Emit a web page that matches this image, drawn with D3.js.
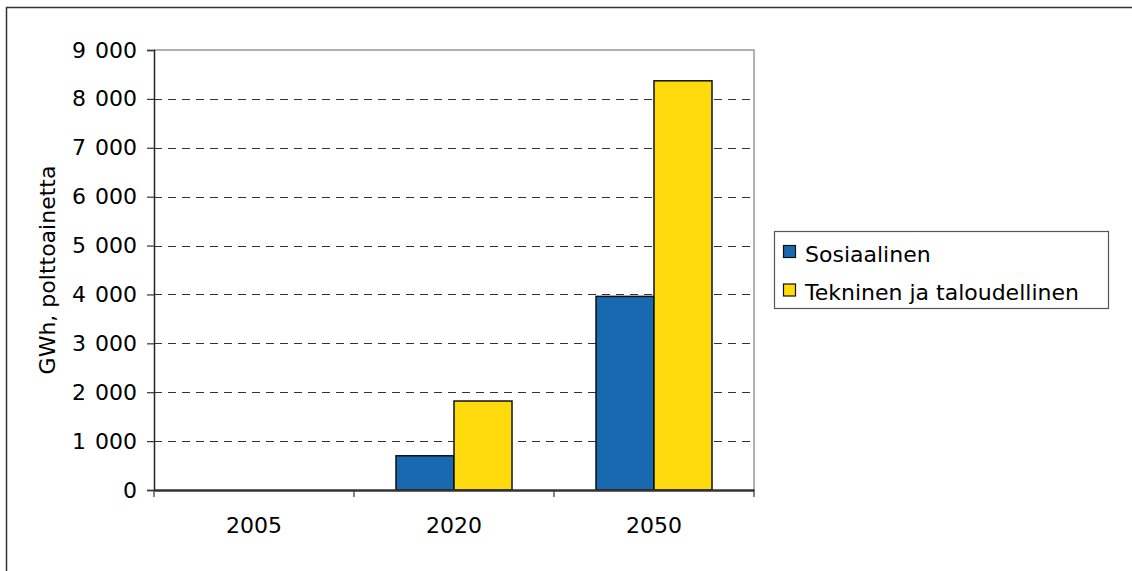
<!DOCTYPE html>
<html>
<head>
<meta charset="utf-8">
<script src="https://cdn.jsdelivr.net/npm/d3@7"></script>
<style>
  html, body { margin: 0; padding: 0; background: #fff; }
  svg { display: block; font-family: "DejaVu Sans", Verdana, sans-serif; }
</style>
</head>
<body>
<svg id="chart" width="1132" height="571"></svg>
<script>
// Years on the x axis
const years = ["2005", "2020", "2050"];
// Series (GWh of fuel)
const seriesNames = ["Sosiaalinen", "Tekninen ja taloudellinen"];
const sosiaalinen = [0, 700, 3960];
const tekninen = [0, 1820, 8370];
const seriesColors = ["#1969B0", "#FFDB0E"];
// Y axis ticks
const yTicks = [0, 1000, 2000, 3000, 4000, 5000, 6000, 7000, 8000, 9000];
const yLabel = "GWh, polttoainetta";

const FONT = 22;
const svg = d3.select("#chart");
const plot = { left: 154, right: 754, top: 50, bottom: 490 };

// Outer frame
svg.append("rect")
  .attr("x", 6.5).attr("y", 7.5)
  .attr("width", 1140).attr("height", 600)
  .attr("fill", "none").attr("stroke", "#333").attr("stroke-width", 1.5);

const x0 = d3.scaleBand().domain(years)
  .range([plot.left, plot.right]).paddingInner(0.42).paddingOuter(0.21);
const x1 = d3.scaleBand().domain(seriesNames).range([0, x0.bandwidth()]);
const xAxisScale = d3.scaleBand().domain(years).range([plot.left, plot.right]);
const y = d3.scaleLinear().domain([0, 9000]).range([plot.bottom, plot.top]);

// Plot area border (top and right)
svg.append("path")
  .attr("d", `M${plot.left},${plot.top}H${plot.right}V${plot.bottom}`)
  .attr("fill", "none").attr("stroke", "#999").attr("stroke-width", 1.5);

// Dashed gridlines
svg.append("g").selectAll("line")
  .data(yTicks.filter(t => t > 0 && t < 9000))
  .join("line")
  .attr("x1", plot.left).attr("x2", plot.right)
  .attr("y1", d => Math.round(y(d)) + 0.5).attr("y2", d => Math.round(y(d)) + 0.5)
  .attr("stroke", "#333").attr("stroke-width", 1)
  .attr("stroke-dasharray", "8,6");

// Bars
const rows = years.map((yr, i) => ({ year: yr, values: [sosiaalinen[i], tekninen[i]] }));
svg.append("g").selectAll("g")
  .data(rows)
  .join("g")
  .attr("transform", d => `translate(${x0(d.year)},0)`)
  .selectAll("rect")
  .data(d => d.values.map((v, j) => ({ name: seriesNames[j], value: v, color: seriesColors[j] })).filter(d => d.value > 0))
  .join("rect")
  .attr("x", d => x1(d.name))
  .attr("width", x1.bandwidth())
  .attr("y", d => y(d.value))
  .attr("height", d => y(0) - y(d.value))
  .attr("fill", d => d.color)
  .attr("stroke", "#111").attr("stroke-width", 1.5);

// Y axis
const yAxis = d3.axisLeft(y).tickValues(yTicks).tickSize(7).tickPadding(10)
  .tickFormat(d => d3.format(",")(d).replace(/,/g, " "));
const gy = svg.append("g").attr("transform", `translate(${plot.left},0)`).call(yAxis);
gy.select(".domain").attr("stroke", "#222").attr("stroke-width", 1.5);
gy.selectAll(".tick line").attr("stroke", "#333").attr("stroke-width", 1.2);
gy.selectAll(".tick text").attr("font-size", FONT).attr("fill", "#000")
  .attr("font-family", "DejaVu Sans, Verdana, sans-serif")
  .style("word-spacing", "2px");

// X axis
const xAxis = d3.axisBottom(xAxisScale).tickSize(0).tickPadding(27);
const gx = svg.append("g").attr("transform", `translate(0,${plot.bottom})`).call(xAxis);
gx.select(".domain").attr("stroke", "#333").attr("stroke-width", 2.5);
gx.selectAll(".tick text").attr("font-size", FONT).attr("fill", "#000")
  .attr("font-family", "DejaVu Sans, Verdana, sans-serif");
// Category separators
gx.append("g").selectAll("line")
  .data(years.map(yr => xAxisScale(yr)).concat([plot.right]))
  .join("line")
  .attr("x1", d => d).attr("x2", d => d)
  .attr("y1", 0).attr("y2", 7)
  .attr("stroke", "#333").attr("stroke-width", 1.2);

// Y axis title
svg.append("text")
  .attr("transform", `translate(55,${(plot.top + plot.bottom) / 2}) rotate(-90)`)
  .attr("text-anchor", "middle")
  .attr("font-size", FONT)
  .attr("fill", "#000")
  .text(yLabel);

// Legend
const legend = svg.append("g");
legend.append("rect")
  .attr("x", 774.5).attr("y", 231.5).attr("width", 334).attr("height", 77)
  .attr("fill", "#fff").attr("stroke", "#555").attr("stroke-width", 1.2);
const items = legend.selectAll("g.item")
  .data(seriesNames.map((n, i) => ({ name: n, color: seriesColors[i] })))
  .join("g").attr("class", "item")
  .attr("transform", (d, i) => `translate(783,${245 + i * 38.5})`);
items.append("rect")
  .attr("x", 0.5).attr("y", 0.5).attr("width", 12).attr("height", 12)
  .attr("fill", d => d.color).attr("stroke", "#111").attr("stroke-width", 1.2);
items.append("text")
  .attr("x", 22).attr("y", 16.5)
  .attr("font-size", FONT).attr("fill", "#000")
  .text(d => d.name);
</script>
</body>
</html>
